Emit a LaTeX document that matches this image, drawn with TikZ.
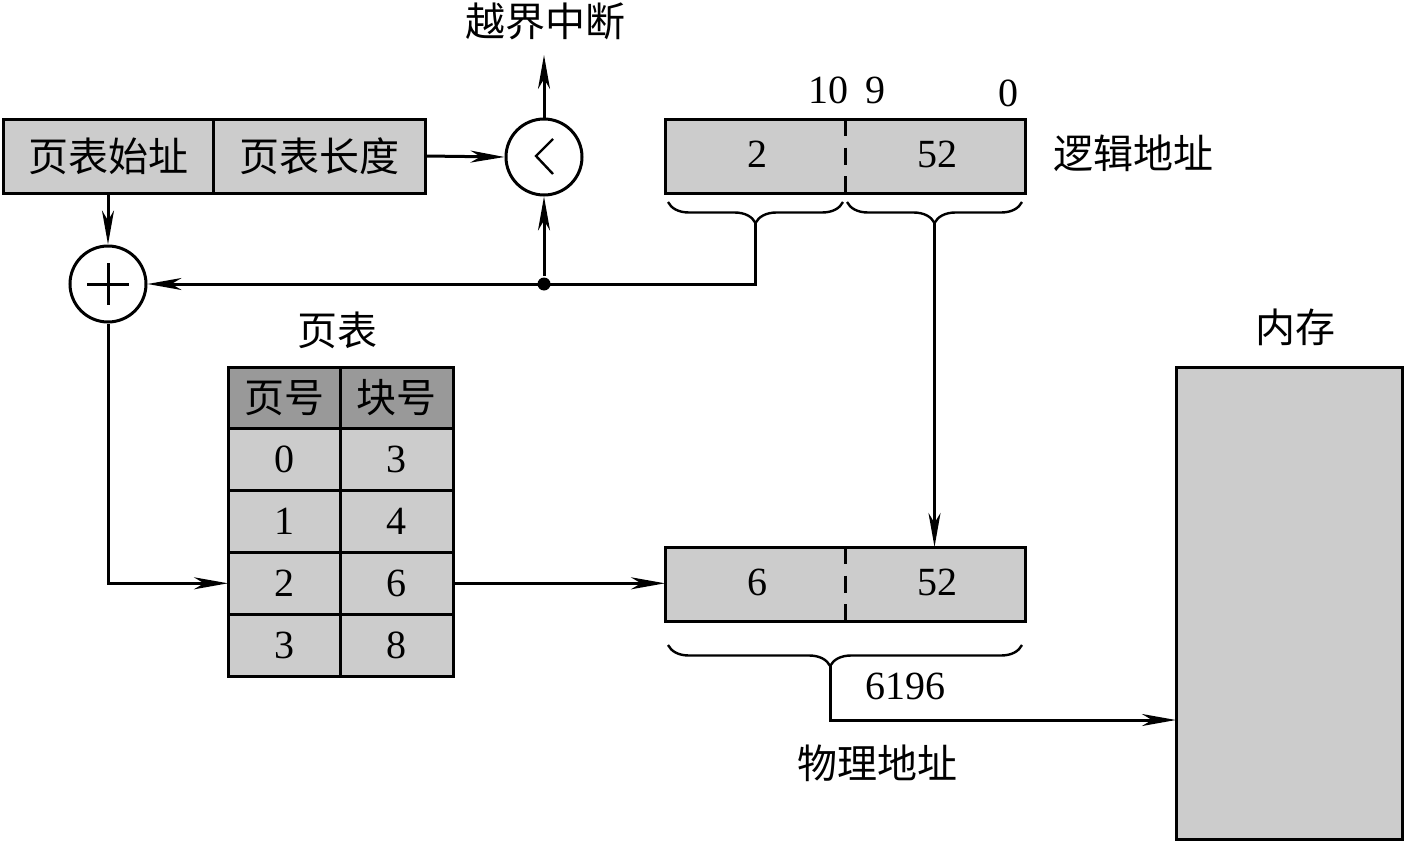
\documentclass[tikz,border=0pt]{standalone}
\usepackage{fontspec}
\setmainfont{Liberation Serif}
\newfontfamily\cjk{Noto Sans CJK SC}
\usetikzlibrary{arrows.meta,decorations.pathreplacing,calc}
\definecolor{boxgray}{gray}{0.8}
\definecolor{headgray}{gray}{0.6}
\begin{document}
\begin{tikzpicture}[x=1pt,y=-1pt,line width=3pt,
  box/.style={draw,fill=boxgray,inner sep=0pt,outer sep=0pt,minimum height=74pt,anchor=north west},
  cell/.style={draw,fill=boxgray,inner sep=0pt,outer sep=0pt,minimum height=61.8pt,anchor=north west,font=\fontsize{40}{40}\selectfont},
  hcell/.style={cell,fill=headgray,font=\fontsize{40}{40}\selectfont\cjk},
  ring/.style={draw,fill=white,circle,inner sep=0pt,minimum size=76pt},
  arr/.style={-{Stealth[length=34pt,width=12pt,inset=10pt]}},
  brc/.style={decorate,decoration={brace,mirror,amplitude=21pt}},
  lbl/.style={inner sep=0pt,font=\fontsize{40}{40}\selectfont},
  clbl/.style={inner sep=0pt,font=\fontsize{40}{40}\selectfont\cjk},
  dashdiv/.style={dash pattern=on 17pt off 11.5pt}]
\useasboundingbox (0,0) rectangle (1405,843);

% top register
\node[box,minimum width=210pt,font=\fontsize{40}{40}\selectfont\cjk] (start) at (3,119) {页表始址};
\node[box,minimum width=212pt,font=\fontsize{40}{40}\selectfont\cjk] (len) at (213,119) {页表长度};

% comparator and adder
\node[ring] (cmp) at (544,157) {};
\draw[line width=2.4pt] (553,139) -- (536,156) -- (553,174);
\node[ring] (add) at (108,284) {};
\draw (87,284) -- (129,284) (108,263) -- (108,305);

\node[clbl] (ovf) at (545,21) {越界中断};
\coordinate (ovft) at (544,55);

% logical address
\node[box,minimum width=360pt] (log) at (665,119) {};
\draw[dashdiv] (845,119) -- (845,193);
\node[lbl] (lp) at (757,154) {2};
\node[lbl] (ld) at (937,154) {52};
\node[lbl] (b10) at (828,90) {10};
\node[lbl] (b9) at (875,90) {9};
\node[lbl] (b0) at (1008,93) {0};
\node[clbl] (logl) at (1133,153) {逻辑地址};
\draw[brc,line width=2.4pt] (668,202) -- (843,202);
\draw[brc,line width=2.4pt] (847,202) -- (1022,202);
\coordinate (b1) at (755.5,223);
\coordinate (b2) at (934.5,223);

% page table
\node[clbl] (ptl) at (337,330) {页表};
\node[hcell,minimum width=112pt] (h1) at (228,367) {页号};
\node[hcell,minimum width=113pt] (h2) at (340,367) {块号};
\node[cell,minimum width=112pt] (r0a) at (228,428.8) {0};
\node[cell,minimum width=113pt] (r0b) at (340,428.8) {3};
\node[cell,minimum width=112pt] (r1a) at (228,490.6) {1};
\node[cell,minimum width=113pt] (r1b) at (340,490.6) {4};
\node[cell,minimum width=112pt] (r2a) at (228,552.4) {2};
\node[cell,minimum width=113pt] (r2b) at (340,552.4) {6};
\node[cell,minimum width=112pt] (r3a) at (228,614.2) {3};
\node[cell,minimum width=113pt] (r3b) at (340,614.2) {8};

% physical address
\node[box,minimum width=360pt] (phys) at (665,547) {};
\draw[dashdiv] (845,547) -- (845,621);
\node[lbl] (pp) at (757,582) {6};
\node[lbl] (pd) at (937,582) {52};
\draw[decorate,decoration={brace,mirror,amplitude=21pt,aspect=0.458},line width=2.4pt] (668,645) -- (1022,645);
\coordinate (b3) at (830,666);
\coordinate (c3) at (830,720);
\node[lbl] (pa) at (905,686) {6196};
\node[clbl] (physl) at (877,763) {物理地址};

% memory
\node[draw,fill=boxgray,inner sep=0pt,outer sep=0pt,minimum width=226pt,minimum height=472pt,anchor=north west] (mem) at (1176,367) {};
\node[clbl] (meml) at (1295,327) {内存};

% connectors
\node[circle,fill,inner sep=0pt,minimum size=13pt] (j) at (544,284) {};
\draw[arr] (len.east) -- (cmp.west);
\draw[arr] (cmp.north) -- (ovft);
\draw[arr] (add |- start.south) -- (add.north);
\draw[arr] (b1) -- (b1 |- add) -- (add.east);
\draw[arr] (j) -- (cmp.south);
\draw[arr] (add.south) |- (r2a.west);
\draw[arr] (r2b.east) -- (r2b.east -| phys.west);
\draw[arr] (b2) -- (b2 |- phys.north);
\draw[arr] (b3) -- (c3) -- (c3 -| mem.west);
\end{tikzpicture}
\end{document}
